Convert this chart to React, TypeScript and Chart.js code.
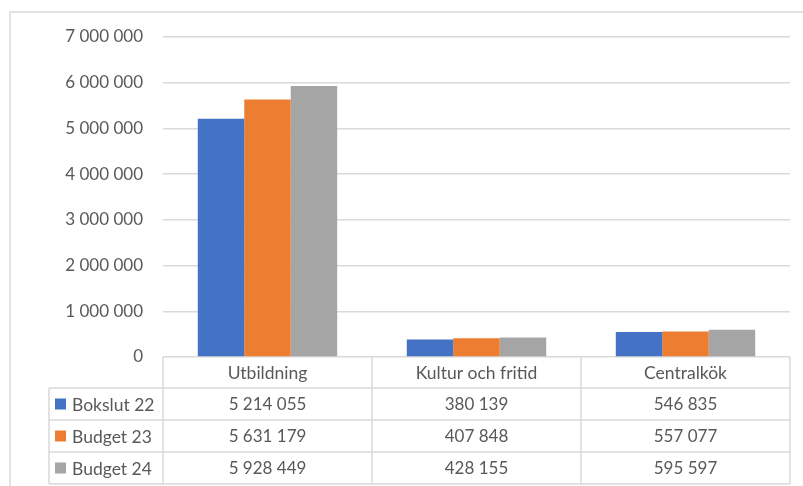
import React, { useEffect, useRef } from "react";
import { Chart, registerables } from "chart.js";

Chart.register(...registerables);

const categories = ["Utbildning", "Kultur och fritid", "Centralkök"];
const seriesNames = ["Bokslut 22", "Budget 23", "Budget 24"];
const bokslut22 = [5214055, 380139, 546835];
const budget23 = [5631179, 407848, 557077];
const budget24 = [5928449, 428155, 595597];
const colors = ["#4472C4", "#ED7D31", "#A5A5A5"];
const yMax = 7000000;
const yStep = 1000000;

const FONT = "Lato, 'Open Sans', sans-serif";
const TEXT = "#595959";
const LINE = "#d9d9d9";

const fmt = (v: number) => String(Math.round(v)).replace(/\B(?=(\d{3})+(?!\d))/g, " ");

const tablePlugin = {
  id: "dataTable",
  beforeDraw(chart: any) {
    const ctx = chart.ctx;
    ctx.save();
    ctx.strokeStyle = LINE;
    ctx.lineWidth = 1.5;
    ctx.beginPath();
    ctx.moveTo(10, 486);
    ctx.lineTo(10, 12);
    ctx.lineTo(803, 12);
    ctx.stroke();
    ctx.restore();
  },
  afterDraw(chart: any) {
    const ctx = chart.ctx;
    const area = chart.chartArea;
    const xs = chart.scales.x;
    const n = categories.length;
    const catW = (area.right - area.left) / n;
    const top = area.bottom;
    const rowH = [31, 32, 32, 32];
    const ys = [top];
    for (const h of rowH) ys.push(ys[ys.length - 1] + h);
    const legendLeft = 49;
    ctx.save();
    ctx.strokeStyle = LINE;
    ctx.lineWidth = 1.5;
    ctx.beginPath();
    for (let i = 1; i < ys.length; i++) {
      ctx.moveTo(legendLeft, ys[i]);
      ctx.lineTo(area.right, ys[i]);
    }
    ctx.moveTo(legendLeft, ys[1]);
    ctx.lineTo(legendLeft, ys[4]);
    for (let i = 0; i <= n; i++) {
      const x = area.left + i * catW;
      ctx.moveTo(x, top);
      ctx.lineTo(x, ys[4]);
    }
    ctx.stroke();

    ctx.fillStyle = TEXT;
    ctx.textBaseline = "middle";
    ctx.textAlign = "center";
    const seriesData = [bokslut22, budget23, budget24];
    for (let i = 0; i < n; i++) {
      const cx = xs.getPixelForValue(i);
      ctx.font = `17.5px ${FONT}`;
      ctx.fillText(categories[i], cx, (ys[0] + ys[1]) / 2 + 1);
      ctx.font = `17px ${FONT}`;
      for (let s = 0; s < seriesData.length; s++) {
        ctx.fillText(fmt(seriesData[s][i]), cx, (ys[s + 1] + ys[s + 2]) / 2 + 1);
      }
    }
    ctx.textAlign = "left";
    ctx.font = `17.5px ${FONT}`;
    for (let s = 0; s < seriesNames.length; s++) {
      const cy = (ys[s + 1] + ys[s + 2]) / 2;
      ctx.fillStyle = colors[s];
      ctx.fillRect(55, cy - 5.5, 11, 11);
      ctx.fillStyle = TEXT;
      ctx.fillText(seriesNames[s], 72, cy + 1);
    }
    ctx.restore();
  },
};

export default function App() {
  const ref = useRef<HTMLCanvasElement | null>(null);
  useEffect(() => {
    if (!ref.current) return;
    const chart = new Chart(ref.current, {
      type: "bar",
      data: {
        labels: categories,
        datasets: [bokslut22, budget23, budget24].map((d, i) => ({
          label: seriesNames[i],
          data: d,
          backgroundColor: colors[i],
          borderWidth: 0,
          categoryPercentage: 0.667,
          barPercentage: 1,
        })),
      },
      options: {
        responsive: false,
        animation: false,
        layout: { padding: { left: 0, right: 13, top: 37, bottom: 129 } },
        plugins: { legend: { display: false }, tooltip: { enabled: false } },
        scales: {
          x: { display: false },
          y: {
            min: 0,
            max: yMax,
            ticks: {
              stepSize: yStep,
              padding: 20,
              color: TEXT,
              font: { family: FONT, size: 17 },
              callback: (v: any) => fmt(Number(v)),
            },
            grid: { color: LINE, lineWidth: 1.5, drawTicks: false },
            border: { display: false },
            afterFit: (s: any) => {
              s.width = 163;
            },
          },
        },
      },
      plugins: [tablePlugin],
    });
    return () => chart.destroy();
  }, []);
  return (
    <div style={{ position: "fixed", left: 0, top: 0, width: 803, height: 486, background: "#fff" }}>
      <canvas ref={ref} width={803} height={486} />
    </div>
  );
}
